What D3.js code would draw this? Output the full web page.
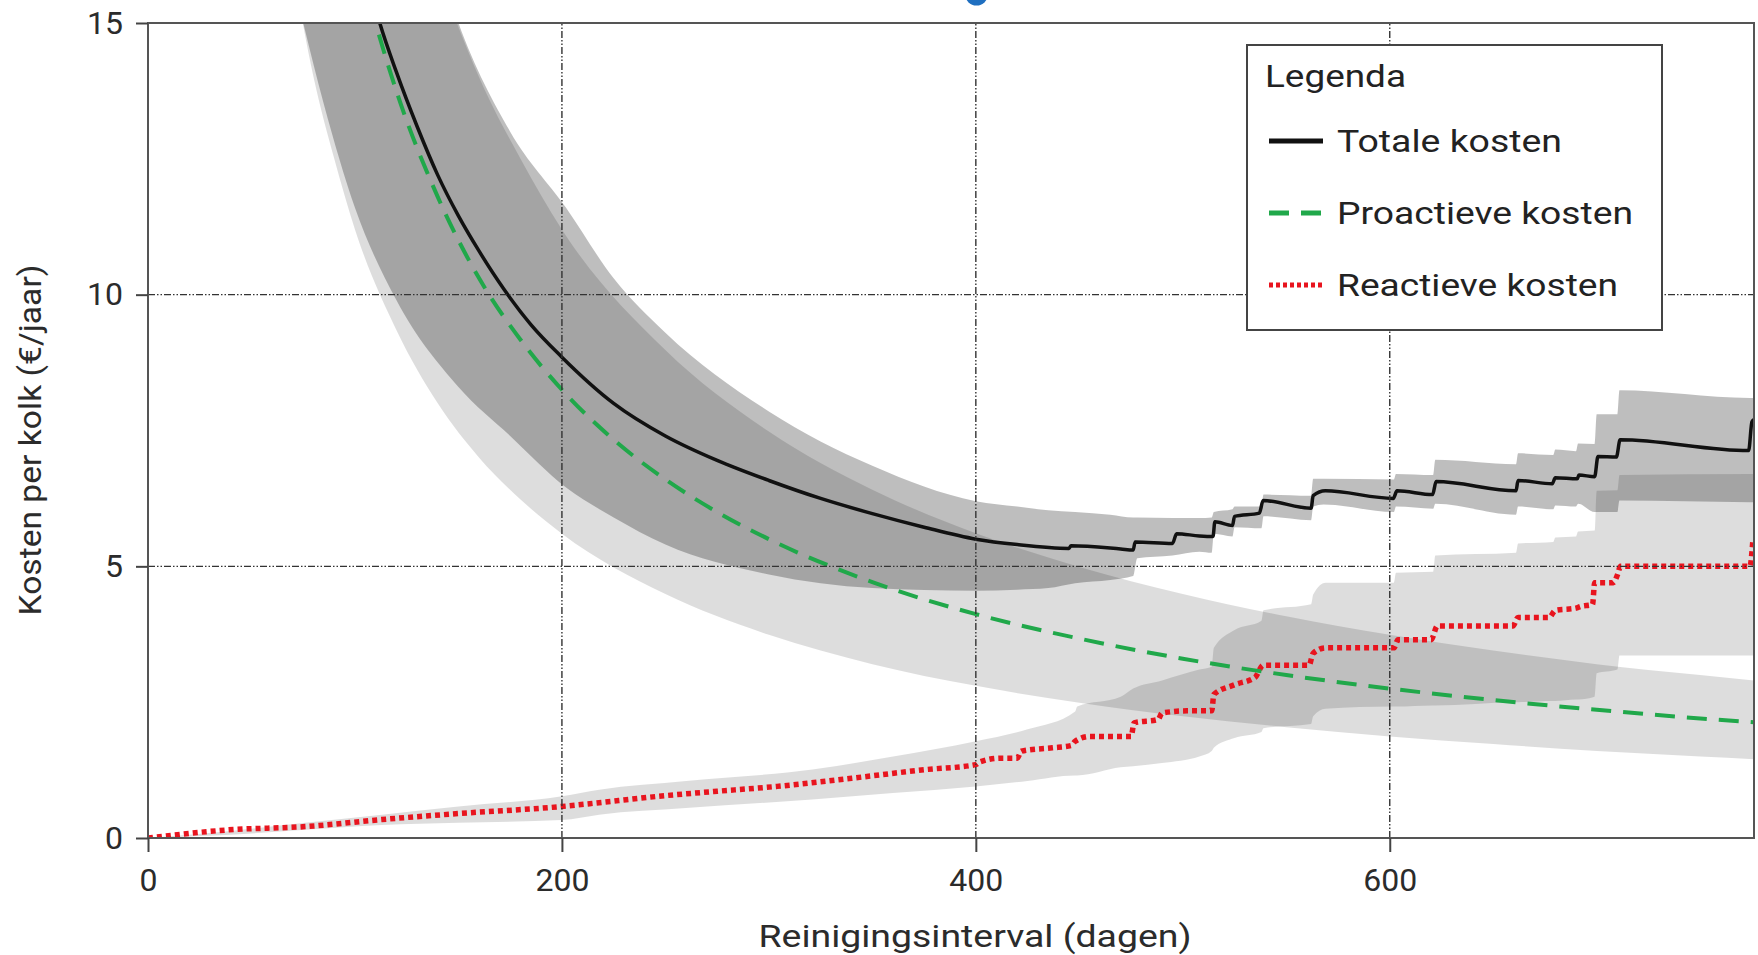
<!DOCTYPE html>
<html lang="nl">
<head>
<meta charset="UTF-8">
<title>Kosten per kolk</title>
<script src="https://d3js.org/d3.v7.min.js"></script>
<style>
  html, body { margin: 0; padding: 0; background: #fff; }
  svg { display: block; font-family: Roboto, "DejaVu Sans", sans-serif; }
  .axis path, .axis line { stroke: #444; stroke-width: 2; }
  .axis text { fill: #2b2b2b; font-size: 32px; font-family: Roboto, sans-serif; }
  .grid line { stroke: #333; stroke-width: 1.4; stroke-dasharray: 7,2,1.5,2,1.5,2; }
  .title { fill: #2b2b2b; font-size: 31px; }
  .legend text { fill: #222; font-size: 31px; }
</style>
</head>
<body>
<svg id="chart"></svg>
<script>
// x ticks / y ticks
const xTicks = [0, 200, 400, 600];
const yTicks = [0, 5, 10, 15];

// proactieve kosten (green dashed)
const proDays = [100, 110, 120, 140, 160, 180, 200, 225, 250, 275, 300, 350, 400, 450, 500, 550, 600, 650, 700, 750, 776];
const proCost = [16.5, 15.0, 13.75, 11.8, 10.3, 9.17, 8.25, 7.33, 6.6, 6.0, 5.5, 4.71, 4.12, 3.67, 3.3, 3.0, 2.75, 2.54, 2.36, 2.2, 2.13];

// band around proactieve kosten
const proBandDays = [70, 80, 90, 100, 120, 140, 160, 180, 200, 250, 300, 350, 400, 450, 500, 550, 600, 650, 700, 750, 776];
const proBandLow = [16.0, 14.0, 12.5, 11.2, 9.35, 8.0, 7.0, 6.23, 5.6, 4.49, 3.74, 3.2, 2.8, 2.49, 2.24, 2.04, 1.87, 1.73, 1.6, 1.5, 1.45];
const proBandHigh = [32, 28, 25, 22.4, 18.7, 16.0, 14.0, 12.5, 11.2, 8.98, 7.48, 6.41, 5.61, 4.99, 4.49, 4.08, 3.74, 3.45, 3.2, 3.0, 2.9];

// totale kosten (black)
const totDays = [105, 112, 120, 130, 140, 150, 160, 172, 185, 200, 225, 250, 275, 300, 325, 350, 375, 400, 420, 445,
  446, 470, 476, 477, 495, 497, 508, 514.6, 515.5, 524, 525, 537, 538.8, 562, 563, 568.9, 601.7, 603.5, 620.7, 622.4,
  661, 662, 678.5, 680, 690.6, 691.4, 699, 700.6, 709.5, 711.3, 773.4, 775, 776];
const totCost = [16.0, 15.0, 14.1, 13.1, 12.2, 11.45, 10.8, 10.1, 9.45, 8.85, 8.0, 7.4, 6.95, 6.58, 6.25, 5.97, 5.72, 5.5, 5.4, 5.33,
  5.38, 5.32, 5.3, 5.45, 5.42, 5.6, 5.56, 5.55, 5.82, 5.75, 5.92, 5.98, 6.21, 6.07, 6.3, 6.39, 6.25, 6.39, 6.32, 6.56,
  6.39, 6.58, 6.52, 6.63, 6.61, 6.68, 6.65, 7.02, 7.01, 7.33, 7.13, 7.66, 7.7];

// band around totale kosten
const totBandDays = [75, 85, 100, 120, 150, 175, 202, 225, 250, 300, 350, 400, 420, 435, 448, 465, 476, 478, 495, 508,
  514, 515, 524, 525, 538, 539, 562, 563, 568, 602, 603, 621, 622, 661, 662, 679, 680, 690, 691, 699,
  700, 710, 711, 774, 776];
const totBandLow = [15.0, 13.5, 11.6, 9.9, 8.3, 7.4, 6.45, 5.9, 5.4, 4.85, 4.6, 4.55, 4.57, 4.6, 4.69, 4.75, 4.82, 5.15, 5.2, 5.27,
  5.25, 5.6, 5.55, 5.72, 5.7, 5.92, 5.85, 6.1, 6.14, 6.0, 6.1, 6.06, 6.15, 5.95, 6.1, 6.05, 6.12, 6.1, 6.15, 6.0,
  6.0, 6.0, 6.21, 6.18, 6.18];
const totBandHigh = [30, 26, 22, 19, 15.0, 13.0, 11.6, 10.3, 9.3, 7.85, 6.85, 6.2, 6.1, 6.03, 6.0, 5.95, 5.9, 5.9, 5.89, 5.89,
  5.9, 6.0, 6.05, 6.1, 6.1, 6.32, 6.3, 6.61, 6.61, 6.6, 6.7, 6.68, 6.96, 6.88, 7.08, 7.05, 7.15, 7.12, 7.26, 7.25,
  7.8, 7.8, 8.24, 8.1, 8.1];

// reactieve kosten (red dotted)
const reaDays = [0, 39, 76, 113, 150, 200, 218, 250, 275, 304, 340, 376, 400, 402, 412, 420, 422, 437, 446, 448,
  455, 475, 476.5, 488, 490, 502, 508, 514, 515, 525, 535, 538.8, 561, 563, 569, 602, 604, 620, 623, 659.5,
  662, 677, 680, 690, 692, 698, 699, 708, 710, 711.5, 774, 775.5];
const reaCost = [0, 0.15, 0.21, 0.34, 0.45, 0.58, 0.65, 0.78, 0.86, 0.95, 1.1, 1.26, 1.35, 1.4, 1.47, 1.47, 1.6, 1.66, 1.7, 1.78,
  1.87, 1.87, 2.12, 2.18, 2.3, 2.34, 2.34, 2.34, 2.64, 2.82, 2.96, 3.18, 3.18, 3.4, 3.5, 3.5, 3.65, 3.65, 3.9, 3.9,
  4.06, 4.06, 4.19, 4.23, 4.26, 4.3, 4.7, 4.7, 4.84, 5.0, 5.0, 5.5];

// band around reactieve kosten
const reaBandDays = [0, 40, 76, 113, 150, 200, 218, 260, 321, 360, 400, 425, 448, 449, 470, 476, 490, 508, 514, 515,
  525, 538, 539, 562, 563, 569, 602, 603, 621, 622, 661, 662, 679, 680, 690, 691, 699, 700, 710, 711, 774, 776];
const reaBandLow = [0, 0.06, 0.15, 0.24, 0.28, 0.33, 0.43, 0.55, 0.71, 0.83, 0.95, 1.05, 1.15, 1.15, 1.3, 1.32, 1.38, 1.5, 1.6, 1.66,
  1.84, 1.95, 2.02, 2.1, 2.24, 2.38, 2.42, 2.42, 2.44, 2.44, 2.5, 2.5, 2.52, 2.52, 2.55, 2.55, 2.6, 3.03, 3.1, 3.36, 3.36, 3.36];
const reaBandHigh = [0, 0.13, 0.28, 0.43, 0.58, 0.77, 0.89, 1.05, 1.26, 1.5, 1.78, 2.0, 2.33, 2.42, 2.6, 2.75, 2.9, 3.1, 3.15, 3.5,
  3.83, 4.0, 4.19, 4.3, 4.48, 4.7, 4.7, 4.88, 4.9, 5.2, 5.25, 5.42, 5.45, 5.53, 5.55, 5.64, 5.66, 6.39, 6.4, 6.68, 6.7, 6.7];

const legendLabels = ["Totale kosten", "Proactieve kosten", "Reactieve kosten"];
const legendWidths = [225, 296, 281];

const W = 1758, H = 955;
const margin = { top: 23, right: 4, bottom: 117, left: 148 };

const svg = d3.select("#chart").attr("width", W).attr("height", H);

const x = d3.scaleLinear().domain([0, 776]).range([margin.left, W - margin.right]);
const y = d3.scaleLinear().domain([0, 15]).range([H - margin.bottom, margin.top]);

// bit of a blue heading cut off at the top
svg.append("ellipse").attr("cx", 976.5).attr("cy", -6).attr("rx", 11.5).attr("ry", 11.5).attr("fill", "#1f6fc0");

svg.append("clipPath").attr("id", "plot")
  .append("rect")
  .attr("x", x(0)).attr("y", y(15))
  .attr("width", x(776) - x(0)).attr("height", y(0) - y(15));

const zip = (xs, a, b) => xs.map((d, i) => ({ x: d, lo: a[i], hi: b ? b[i] : a[i] }));

const area = d3.area()
  .x(d => x(d.x)).y0(d => y(d.lo)).y1(d => y(d.hi))
  .curve(d3.curveMonotoneX);
const line = d3.line()
  .x(d => x(d.x)).y(d => y(d.lo))
  .curve(d3.curveMonotoneX);

const plot = svg.append("g").attr("clip-path", "url(#plot)");

// bands: stacked translucent grey, overlaps get darker
plot.append("path").datum(zip(proBandDays, proBandLow, proBandHigh))
  .attr("d", area).attr("fill", "#000").attr("fill-opacity", 0.135);
plot.append("path").datum(zip(reaBandDays, reaBandLow, reaBandHigh))
  .attr("d", area).attr("fill", "#000").attr("fill-opacity", 0.135);
plot.append("path").datum(zip(totBandDays, totBandLow, totBandHigh))
  .attr("d", area).attr("fill", "#000").attr("fill-opacity", 0.255);

// grid
const grid = svg.append("g").attr("class", "grid");
grid.selectAll(".gx").data(xTicks.filter(d => d > 0)).enter().append("line")
  .attr("x1", d => x(d)).attr("x2", d => x(d))
  .attr("y1", y(0)).attr("y2", y(15));
grid.selectAll(".gy").data(yTicks.filter(d => d > 0 && d < 15)).enter().append("line")
  .attr("x1", x(0)).attr("x2", x(776))
  .attr("y1", d => y(d)).attr("y2", d => y(d));

// lines
plot.append("path").datum(zip(reaDays, reaCost))
  .attr("d", line).attr("fill", "none")
  .attr("stroke", "#e8141e").attr("stroke-width", 5.5).attr("stroke-dasharray", "5,4");
plot.append("path").datum(zip(proDays, proCost))
  .attr("d", line).attr("fill", "none")
  .attr("stroke", "#20a84a").attr("stroke-width", 4).attr("stroke-dasharray", "20,12");
plot.append("path").datum(zip(totDays, totCost))
  .attr("d", line).attr("fill", "none")
  .attr("stroke", "#111").attr("stroke-width", 3.5);

// frame + axes
svg.append("rect")
  .attr("x", x(0)).attr("y", y(15))
  .attr("width", x(776) - x(0)).attr("height", y(0) - y(15))
  .attr("fill", "none").attr("stroke", "#555").attr("stroke-width", 2);

svg.append("g").attr("class", "axis")
  .attr("transform", `translate(0,${y(0)})`)
  .call(d3.axisBottom(x).tickValues(xTicks).tickSize(14).tickSizeOuter(0).tickPadding(16));

svg.append("g").attr("class", "axis")
  .attr("transform", `translate(${x(0)},0)`)
  .call(d3.axisLeft(y).tickValues(yTicks).tickSize(12).tickSizeOuter(0).tickPadding(13));

svg.selectAll(".axis .domain").remove();

// axis titles (reference face is a wide DIN, stretch to its measured width)
svg.append("text").attr("class", "title")
  .attr("x", 975).attr("y", 947).attr("text-anchor", "middle")
  .attr("textLength", 433).attr("lengthAdjust", "spacingAndGlyphs")
  .text("Reinigingsinterval (dagen)");
svg.append("text").attr("class", "title")
  .attr("transform", "translate(30,440) rotate(-90)")
  .attr("text-anchor", "middle").attr("dy", "0.35em")
  .attr("textLength", 351).attr("lengthAdjust", "spacingAndGlyphs")
  .text("Kosten per kolk (€/jaar)");

// legend
const lg = svg.append("g").attr("class", "legend");
lg.append("rect").attr("x", 1247).attr("y", 45).attr("width", 415).attr("height", 285)
  .attr("fill", "#fff").attr("stroke", "#444").attr("stroke-width", 2);
lg.append("text").attr("x", 1265).attr("y", 87)
  .attr("textLength", 141).attr("lengthAdjust", "spacingAndGlyphs")
  .text("Legenda");
const styles = [
  { stroke: "#111", width: 5, dash: null },
  { stroke: "#20a84a", width: 5, dash: "20,12" },
  { stroke: "#e8141e", width: 5, dash: "4,3" }
];
legendLabels.forEach((lab, i) => {
  const yy = 141 + i * 72;
  lg.append("line").attr("x1", 1269).attr("x2", 1323).attr("y1", yy).attr("y2", yy)
    .attr("stroke", styles[i].stroke).attr("stroke-width", styles[i].width)
    .attr("stroke-dasharray", styles[i].dash);
  lg.append("text").attr("x", 1337).attr("y", yy + 11)
    .attr("textLength", legendWidths[i]).attr("lengthAdjust", "spacingAndGlyphs")
    .text(lab);
});
</script>
</body>
</html>
